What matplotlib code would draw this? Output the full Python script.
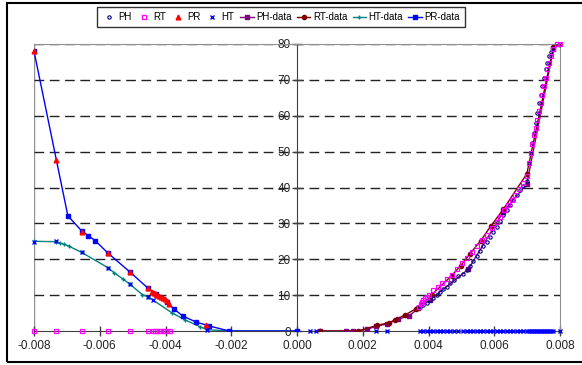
import matplotlib
matplotlib.use("Agg")
import matplotlib.pyplot as plt
from matplotlib.patches import Rectangle

# --- Messpunkte ---
# rechte Seite: PH-Punkte (dunkelblaue Kreise)
ph_x = [0.00374, 0.00384, 0.00394, 0.00405, 0.00415, 0.00425, 0.00435, 0.00445,
        0.00455, 0.00465, 0.00478, 0.00491, 0.00504, 0.00516, 0.00526, 0.00536,
        0.00547, 0.00557, 0.00567, 0.00577, 0.00587, 0.00597, 0.00607, 0.00617,
        0.00628, 0.00638, 0.00648, 0.00658, 0.00668, 0.00678, 0.00688, 0.00701,
        0.00707, 0.00711, 0.00716, 0.00721, 0.00726, 0.00731, 0.00736, 0.00741,
        0.00746, 0.00751, 0.00756, 0.00761, 0.00767, 0.00772, 0.00780, 0.00800]
ph_y = [6.6, 7.3, 7.9, 8.7, 9.3, 10.1, 10.8, 11.6, 12.4, 13.3, 14.2, 15.2,
        15.9, 17.0, 18.2, 19.4, 20.8, 22.2, 23.6, 24.9, 26.3, 27.7, 29.1, 30.8,
        32.4, 33.8, 35.2, 36.6, 38.0, 39.4, 40.5, 41.7, 46.8, 49.6, 52.4, 55.2,
        58.0, 60.8, 63.6, 65.9, 68.2, 70.6, 72.9, 74.8, 76.6, 77.7, 79.0, 80.0]

# RT-Punkte: links auf der Nulllinie, rechts entlang der oberen Kurve
rt_x = [-0.008, -0.00733, -0.00655, -0.00576, -0.00509, -0.00454, -0.00439,
        -0.00432, -0.00425, -0.00417, -0.00409, -0.00402, -0.00394, -0.00387,
        0.00372, 0.00376, 0.00380, 0.00384, 0.00388, 0.00394, 0.00403, 0.00415,
        0.00430, 0.00440, 0.00455, 0.00471, 0.00486, 0.00501, 0.00516, 0.00531,
        0.00547, 0.00562, 0.00577, 0.00592, 0.00607, 0.00617, 0.00630, 0.00643,
        0.00653, 0.00663, 0.00676, 0.00687, 0.00699, 0.00707, 0.00711, 0.00716,
        0.00721, 0.00726, 0.00731, 0.00736, 0.00741, 0.00746, 0.00751, 0.00756,
        0.00761, 0.00767, 0.00772, 0.00778, 0.00790, 0.00800]
rt_y = [0, 0, 0, 0, 0, 0, 0, 0, 0, 0, 0, 0, 0, 0,
        6.8, 7.5, 8.2, 8.7, 9.1, 9.6, 10.1, 11.5, 12.4, 13.3, 14.4, 15.6,
        17.2, 18.9, 20.3, 21.9, 23.6, 25.4, 26.8, 28.7, 30.3, 31.9, 33.8, 35.2,
        36.6, 38.0, 39.6, 41.3, 43.1, 46.8, 49.6, 52.0, 54.5, 56.6, 58.9, 61.3,
        63.6, 65.9, 68.2, 70.6, 72.9, 74.8, 76.6, 78.5, 79.9, 80.0]

# PR-Punkte (rote Dreiecke, links)
pr_x = [-0.008, -0.00733, -0.00655, -0.00576, -0.00509, -0.00454, -0.00442,
        -0.00436, -0.00430, -0.00425, -0.00420, -0.00414, -0.00408, -0.00402,
        -0.00396, -0.00388, -0.00278]
pr_y = [78.0, 47.8, 27.7, 21.8, 16.4, 12.1, 11.0, 10.6, 10.3, 10.0, 9.7, 9.4,
        9.1, 8.8, 8.4, 7.6, 1.7]

# HT-Punkte (blaue Kreuze): links auf der Kurve, rechts auf der Nulllinie
ht_x = [-0.008, -0.00733, -0.00655, -0.00576, -0.00509, -0.00454, -0.00437,
        -0.00275, 0.0004, 0.00058, 0.0024, 0.00275] + ph_x
ht_y = [24.9, 25.0, 21.9, 17.7, 13.1, 9.6, 8.7, 0.3, 0, 0, 0, 0] + [0] * len(ph_x)

# Datenkurven
phd_x = [0.0007, 0.00149, 0.00169, 0.00214, 0.0024, 0.00275, 0.00308, 0.00341,
         0.00369, 0.00405, 0.00521, 0.00628, 0.00699, 0.0078, 0.008]
phd_y = [0, 0, 0, 0.5, 1.3, 2.0, 3.3, 4.2, 6.3, 8.7, 17.2, 33.3, 41.0, 78.7, 80.0]

rtd_x = [0.0007, 0.00187, 0.00244, 0.0028, 0.00298, 0.00329, 0.00362, 0.0041,
         0.0047, 0.00498, 0.00526, 0.00559, 0.0059, 0.00628, 0.00699, 0.0078, 0.008]
rtd_y = [0, 0, 1.6, 2.3, 3.1, 4.5, 6.2, 10.1, 15.4, 18.2, 21.5, 25.2, 29.3,
         34.0, 43.8, 79.2, 80.0]

htd_x = [-0.008, -0.00733, -0.0072, -0.00708, -0.00695, -0.00655, -0.00576,
         -0.00557, -0.00528, -0.00509, -0.0047, -0.00454, -0.00381, -0.00341,
         -0.00295, -0.00275, -0.0021, 0.0]
htd_y = [25.0, 24.9, 24.5, 24.2, 23.7, 21.9, 17.7, 16.3, 14.4, 13.1, 10.1,
         9.6, 5.1, 3.1, 1.2, 0.4, 0, 0]

prd_x = [-0.008, -0.00697, -0.00655, -0.00635, -0.00614, -0.00576, -0.00509,
         -0.00454, -0.0043, -0.00396, -0.00373, -0.00348, -0.00307, -0.00267,
         -0.00206, 0.0]
prd_y = [78.0, 32.1, 27.9, 26.6, 25.2, 21.8, 16.5, 12.0, 10.4, 8.0, 6.05, 4.2,
         2.5, 1.4, 0, 0]

plt.rcParams["font.family"] = ["Liberation Sans", "DejaVu Sans"]

fig = plt.figure(figsize=(5.82, 3.65), dpi=100)
ax = fig.add_axes([34 / 582, 1 - 331 / 365, 526 / 582, 287 / 365])

# Datenlinien
ax.plot(phd_x, phd_y, color="#800080", lw=1, marker="s", ms=2.5, label="PH-data", zorder=3)
ax.plot(rtd_x, rtd_y, color="#800000", lw=1, marker="o", ms=3, label="RT-data", zorder=3)
ax.plot(htd_x, htd_y, color="#008080", lw=1, marker="+", ms=3.5, mew=1, label="HT-data", zorder=3)
ax.plot(prd_x, prd_y, color="#0000FF", lw=1, marker="s", ms=2.5, label="PR-data", zorder=3)

# Messpunkte (nicht abschneiden, damit die Punkte auf der Nulllinie ganz sichtbar sind)
ax.plot(ph_x, ph_y, ls="none", marker="o", ms=2.4, mfc="none", mec="#000080", mew=0.8,
        label="PH", zorder=4, clip_on=False)
ax.plot(rt_x, rt_y, ls="none", marker="s", ms=3.1, mfc="none", mec="#FF00FF", mew=0.9,
        label="RT", zorder=5, clip_on=False)
ax.plot(pr_x, pr_y, ls="none", marker="^", ms=3.4, mfc="#FF0000", mec="#FF0000",
        label="PR", zorder=4, clip_on=False)
ax.plot(ht_x, ht_y, ls="none", marker="x", ms=3.5, mec="#0000FF", mew=1,
        label="HT", zorder=4, clip_on=False)

ax.set_xlim(-0.008, 0.008)
ax.set_ylim(0, 80)
ax.set_xticks([-0.008, -0.006, -0.004, -0.002, 0.0, 0.002, 0.004, 0.006, 0.008])
ax.set_xticklabels(["-0.008", "-0.006", "-0.004", "-0.002", "0.000",
                    "0.002", "0.004", "0.006", "0.008"])
ax.set_yticks(range(0, 81, 10))

# Achsen wie in Excel: y-Achse bei x=0
ax.spines["left"].set_position(("data", 0))
ax.spines["left"].set_color("#404040")
ax.spines["bottom"].set_color("#404040")
ax.spines["top"].set_color("#909090")
ax.spines["right"].set_color("#909090")
ax.spines["left"].set_zorder(2)

# linker Rand der Plotfläche
ax.axvline(-0.008, color="#909090", lw=1, zorder=1)

ax.tick_params(axis="both", direction="inout", length=7, width=1, colors="#404040",
               labelsize=8.5, labelcolor="#222222")
ax.tick_params(axis="x", pad=3)
ax.tick_params(axis="y", pad=1)

for yv in range(10, 81, 10):
    ax.axhline(yv, color="#222222", lw=1, ls=(0, (7, 4)), zorder=1)

# Legende
handles, labels = ax.get_legend_handles_labels()
order = ["PH", "RT", "PR", "HT", "PH-data", "RT-data", "HT-data", "PR-data"]
hmap = dict(zip(labels, handles))
leg = fig.legend([hmap[k] for k in order], order, loc="center",
                 bbox_to_anchor=(281 / 582, 1 - 17 / 365), ncol=8, fontsize=7,
                 frameon=True, fancybox=False, edgecolor="black", handlelength=1.4,
                 handletextpad=0.25, columnspacing=0.55, borderpad=0.55, markerscale=1)
leg.get_frame().set_linewidth(1)

# äußerer Rahmen
fig.patches.append(Rectangle((7 / 582, 3 / 365), 1.0, 359 / 365, transform=fig.transFigure,
                             fill=False, edgecolor="black", lw=1.5))

fig.savefig("out.png", dpi=100)
plt.close(fig)
